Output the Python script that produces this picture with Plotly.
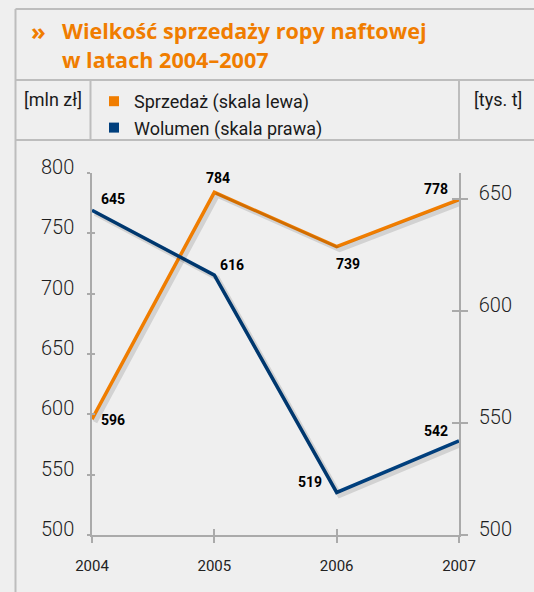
import plotly.graph_objects as go

# ---- data ----
years = [2004, 2005, 2006, 2007]
sprzedaz = [596, 784, 739, 778]      # mln zł (left scale)
wolumen = [645, 616, 519, 542]       # tys. t (right scale)
left_ticks = [500, 550, 600, 650, 700, 750, 800]
right_ticks = [500, 550, 600, 650]

ORANGE = "#f07d00"
BLUE = "#003f7d"
GRID = "#aaaaaa"
BORDER = "#bdbdbd"
TXT = "#1a1a1a"
REG = "Roboto, Noto Sans, sans-serif"
BOLD = "Open Sans, Noto Sans, sans-serif"

W, H = 534, 592
ML, MR, MT, MB = 92, 75, 173, 57
PW, PH = W - ML - MR, H - MT - MB


def px(x):
    return (x - ML) / PW


def py(y):
    return (H - MB - y) / PH


L_RANGE = [500, 800]
R_RANGE = [500, 661.6]
X_RANGE = [2004, 2007]

# pixel offsets for shadow (style)
sx = 3 * (X_RANGE[1] - X_RANGE[0]) / PW
syl = 3 * (L_RANGE[1] - L_RANGE[0]) / PH
syr = 3 * (R_RANGE[1] - R_RANGE[0]) / PH

fig = go.Figure()

# shadows
fig.add_trace(go.Scatter(x=years, y=sprzedaz, mode="lines", xaxis="x3", yaxis="y3",
                         line=dict(color="rgba(0,0,0,0.12)", width=5), hoverinfo="skip", showlegend=False))
fig.add_trace(go.Scatter(x=years, y=wolumen, mode="lines", xaxis="x3", yaxis="y4",
                         line=dict(color="rgba(0,0,0,0.12)", width=5), hoverinfo="skip", showlegend=False))

# main lines
fig.add_trace(go.Scatter(x=years, y=sprzedaz, mode="lines", name="Sprzedaż (skala lewa)",
                         line=dict(color=ORANGE, width=3.5), showlegend=False))
fig.add_trace(go.Scatter(x=years, y=wolumen, mode="lines", name="Wolumen (skala prawa)", yaxis="y2",
                         line=dict(color=BLUE, width=3.5), showlegend=False))

# legend entries (square symbols)
fig.add_trace(go.Scatter(x=[None], y=[None], mode="markers", name="Sprzedaż (skala lewa)",
                         marker=dict(symbol="square", size=10, color=ORANGE)))
fig.add_trace(go.Scatter(x=[None], y=[None], mode="markers", name="Wolumen (skala prawa)",
                         marker=dict(symbol="square", size=10, color=BLUE)))

# ---- data labels ----
ann = []
s_shift = [(21, -1), (4, 14), (11, -17), (-23, 11)]
w_shift = [(21, 11), (18, 10), (-27, 10), (-23, 10)]
lab_font = dict(family=REG, size=14, color="#000", weight="bold")
for xv, yv, (dx, dy) in zip(years, sprzedaz, s_shift):
    ann.append(dict(x=xv, y=yv, xref="x", yref="y", text=str(yv), showarrow=False,
                    xshift=dx, yshift=dy, font=lab_font))
for xv, yv, (dx, dy) in zip(years, wolumen, w_shift):
    ann.append(dict(x=xv, y=yv, xref="x", yref="y2", text=str(yv), showarrow=False,
                    xshift=dx, yshift=dy, font=lab_font))

# ---- title / header ----
ann.append(dict(x=px(29), y=py(30), xref="paper", yref="paper", xanchor="left", yanchor="middle",
                text="»", showarrow=False, font=dict(family=BOLD, size=24, color=ORANGE, weight="bold")))
ann.append(dict(x=px(60), y=py(30), xref="paper", yref="paper", xanchor="left", yanchor="middle",
                text="Wielkość sprzedaży ropy naftowej", showarrow=False,
                font=dict(family=BOLD, size=21.6, color=ORANGE, weight="bold")))
ann.append(dict(x=px(60), y=py(59), xref="paper", yref="paper", xanchor="left", yanchor="middle",
                text="w latach 2004–2007", showarrow=False,
                font=dict(family=BOLD, size=21.6, color=ORANGE, weight="bold")))
ann.append(dict(x=px(22), y=py(100), xref="paper", yref="paper", xanchor="left", yanchor="middle",
                text="[mln zł]", showarrow=False, font=dict(family=REG, size=18, color=TXT)))
ann.append(dict(x=px(472), y=py(100), xref="paper", yref="paper", xanchor="left", yanchor="middle",
                text="[tys. t]", showarrow=False, font=dict(family=REG, size=18, color=TXT)))

# ---- frame lines ----
shapes = []
def seg(x0, y0, x1, y1):
    shapes.append(dict(type="line", xref="paper", yref="paper", x0=px(x0), y0=py(y0), x1=px(x1), y1=py(y1),
                       line=dict(color=BORDER, width=2)))
seg(15.5, 9, 15.5, 592)
seg(15.5, 9, 534, 9)
seg(15.5, 80, 534, 80)
seg(15.5, 140, 534, 140)
seg(90.5, 80, 90.5, 140)
seg(459, 80, 459, 140)

tickfont_big = dict(family=REG, size=20, color="#1e1e1e", weight=300)

fig.update_layout(
    width=W, height=H,
    margin=dict(l=ML, r=MR, t=MT, b=MB, pad=0),
    paper_bgcolor="#efefef", plot_bgcolor="rgba(0,0,0,0)",
    showlegend=True,
    legend=dict(x=px(94), y=py(83), xanchor="left", yanchor="top", bgcolor="rgba(0,0,0,0)",
                font=dict(family=REG, size=18, color=TXT), itemwidth=30, tracegroupgap=0,
                borderwidth=0),
    xaxis=dict(range=X_RANGE, tickvals=years, ticktext=[str(y) for y in years],
               showgrid=False, zeroline=False, showline=True, linecolor=GRID, linewidth=1.5,
               ticks="outside", ticklen=6, tickcolor=GRID, tickwidth=1.5,
               tickfont=dict(family=REG, size=15, color="#222"), ticklabelstandoff=10),
    xaxis2=dict(range=X_RANGE, tickvals=years, overlaying="x", showticklabels=False, showgrid=False,
                zeroline=False, showline=False, ticks="inside", ticklen=6, tickcolor=GRID, tickwidth=1.5),
    xaxis3=dict(range=[X_RANGE[0] - sx, X_RANGE[1] - sx], overlaying="x", visible=False),
    yaxis=dict(range=L_RANGE, tickvals=left_ticks, showgrid=False, zeroline=False, showline=True,
               linecolor=GRID, linewidth=1.5, ticks="outside", ticklen=3, tickcolor=GRID, tickwidth=1.5,
               tickfont=tickfont_big, ticklabelshift=-6, ticklabelstandoff=9),
    yaxis2=dict(range=R_RANGE, tickvals=right_ticks, overlaying="y", side="right", showgrid=False,
                zeroline=False, showline=True, linecolor=GRID, linewidth=1.5, ticks="outside", ticklen=7,
                tickcolor=GRID, tickwidth=1.5, tickfont=tickfont_big, ticklabelshift=-6, ticklabelstandoff=7),
    yaxis5=dict(range=L_RANGE, tickvals=left_ticks, overlaying="y", showticklabels=False, showgrid=False,
                zeroline=False, showline=False, ticks="inside", ticklen=3, tickcolor=GRID, tickwidth=1.5),
    yaxis6=dict(range=R_RANGE, tickvals=right_ticks, overlaying="y", side="right", showticklabels=False,
                showgrid=False, zeroline=False, showline=False, ticks="inside", ticklen=7, tickcolor=GRID,
                tickwidth=1.5),
    yaxis3=dict(range=[L_RANGE[0] + syl, L_RANGE[1] + syl], overlaying="y", visible=False),
    yaxis4=dict(range=[R_RANGE[0] + syr, R_RANGE[1] + syr], overlaying="y", visible=False),
    annotations=ann,
    shapes=shapes,
)

# invisible traces to activate tick-only overlay axes
fig.add_trace(go.Scatter(x=[None], y=[None], xaxis="x2", yaxis="y5", showlegend=False, hoverinfo="skip"))
fig.add_trace(go.Scatter(x=[None], y=[None], xaxis="x2", yaxis="y6", showlegend=False, hoverinfo="skip"))

fig.write_html("out.html", config={"displayModeBar": False},
               post_script="document.body.style.margin='0';document.body.style.overflow='hidden';")
